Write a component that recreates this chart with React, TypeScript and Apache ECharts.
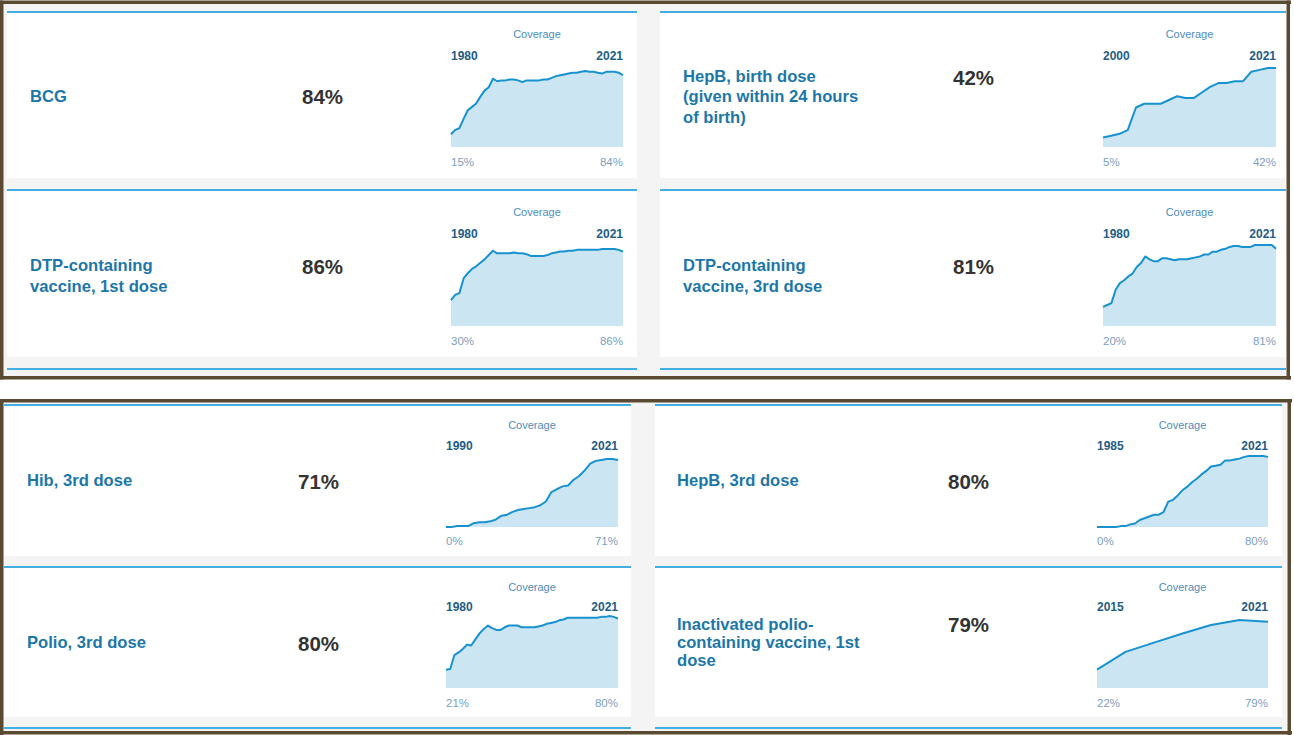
import React, { useEffect, useRef } from "react";
import * as echarts from "echarts";

// ---------- data ----------
const yearRange = (a: number, b: number): string[] => {
  const r: string[] = [];
  for (let y = a; y <= b; y++) r.push(String(y));
  return r;
};

const bcgYears = yearRange(1980, 2021);
const bcgValues = [15, 20, 22, 33, 43, 47, 51, 59, 66, 70, 80, 77, 78, 78, 79, 79, 78, 76, 78, 78, 78, 78, 79, 79, 81, 83, 84, 85, 86, 87, 87, 88, 89, 88, 88, 87, 86, 88, 88, 88, 87, 84];

const hepBBirthYears = yearRange(2000, 2021);
const hepBBirthValues = [5, 6, 7, 9, 21, 23, 23, 23, 25, 27, 26, 26, 29, 32, 34, 34, 35, 35, 40, 41, 42, 42];

const dtp1Years = yearRange(1980, 2021);
const dtp1Values = [30, 36, 38, 55, 61, 66, 69, 73, 77, 82, 87, 84, 84, 84, 84, 85, 84, 84, 83, 81, 81, 81, 81, 82, 84, 85, 86, 86, 87, 87, 88, 88, 88, 88, 88, 88, 89, 89, 89, 89, 88, 86];

const dtp3Years = yearRange(1980, 2021);
const dtp3Values = [20, 22, 24, 38, 45, 48, 52, 55, 62, 66, 73, 70, 68, 68, 71, 71, 70, 69, 70, 70, 70, 71, 72, 73, 75, 75, 78, 78, 80, 81, 83, 84, 84, 83, 83, 83, 85, 85, 85, 85, 85, 81];

const hibYears = yearRange(1990, 2021);
const hibValues = [0, 0, 1, 1, 1, 4, 5, 5, 6, 8, 12, 13, 16, 18, 19, 20, 21, 23, 27, 37, 40, 43, 44, 50, 54, 60, 67, 70, 71, 72, 72, 71];

const hepB3Years = yearRange(1985, 2021);
const hepB3Values = [0, 0, 0, 0, 0, 1, 1, 3, 4, 8, 10, 12, 14, 14, 17, 29, 31, 36, 42, 46, 51, 55, 60, 64, 69, 70, 71, 76, 76, 77, 78, 80, 81, 81, 81, 81, 80];

const polio3Years = yearRange(1980, 2021);
const polio3Values = [21, 22, 38, 41, 45, 50, 49, 56, 63, 68, 72, 69, 67, 67, 70, 72, 72, 72, 70, 70, 70, 70, 71, 72, 74, 75, 76, 78, 79, 81, 81, 81, 81, 81, 81, 81, 81, 82, 82, 83, 82, 80];

const ipvYears = yearRange(2015, 2021);
const ipvValues = [22, 43, 54, 65, 75, 81, 79];

const titles = [
  ["BCG"],
  ["HepB, birth dose", "(given within 24 hours", "of birth)"],
  ["DTP-containing", "vaccine, 1st dose"],
  ["DTP-containing", "vaccine, 3rd dose"],
  ["Hib, 3rd dose"],
  ["HepB, 3rd dose"],
  ["Polio, 3rd dose"],
  ["Inactivated polio-", "containing vaccine, 1st", "dose"],
];
const headline = ["84%", "42%", "86%", "81%", "71%", "80%", "80%", "79%"];
const firstLabels = ["15%", "5%", "30%", "20%", "0%", "0%", "21%", "22%"];
const lastLabels = ["84%", "42%", "86%", "81%", "71%", "80%", "80%", "79%"];
const seriesYears = [bcgYears, hepBBirthYears, dtp1Years, dtp3Years, hibYears, hepB3Years, polio3Years, ipvYears];
const seriesValues = [bcgValues, hepBBirthValues, dtp1Values, dtp3Values, hibValues, hepB3Values, polio3Values, ipvValues];

// ---------- layout ----------
type Card = {
  x: number; y: number; w: number; h: number;
  titleX: number; titleY: number; lineH: number;
  pctX: number; pctY: number;
  covY: number; yrY: number; botY: number;
  grid: { left: number; top: number; width: number; height: number };
};

const cards: Card[] = [
  { x: 7, y: 11, w: 630, h: 167, titleX: 30, titleY: 96, lineH: 21, pctX: 302, pctY: 96, covY: 34, yrY: 56, botY: 162, grid: { left: 451, top: 71, width: 172, height: 76 } },
  { x: 660, y: 11, w: 626, h: 167, titleX: 683, titleY: 76, lineH: 20.7, pctX: 953, pctY: 77, covY: 34, yrY: 56, botY: 162, grid: { left: 1103, top: 68, width: 173, height: 79 } },
  { x: 7, y: 189, w: 630, h: 168, titleX: 30, titleY: 265, lineH: 21, pctX: 302, pctY: 266, covY: 212, yrY: 234, botY: 341, grid: { left: 451, top: 249, width: 172, height: 77 } },
  { x: 660, y: 189, w: 626, h: 168, titleX: 683, titleY: 265, lineH: 21, pctX: 953, pctY: 266, covY: 212, yrY: 234, botY: 341, grid: { left: 1103, top: 245, width: 173, height: 81 } },
  { x: 4, y: 404, w: 627, h: 152, titleX: 27, titleY: 480, lineH: 18.5, pctX: 298, pctY: 481, covY: 425, yrY: 446, botY: 541, grid: { left: 446, top: 459, width: 172, height: 68 } },
  { x: 655, y: 404, w: 627, h: 152, titleX: 677, titleY: 480, lineH: 18.5, pctX: 948, pctY: 481, covY: 425, yrY: 446, botY: 541, grid: { left: 1097, top: 456, width: 171, height: 71 } },
  { x: 4, y: 566, w: 627, h: 151, titleX: 27, titleY: 642, lineH: 18.5, pctX: 298, pctY: 643, covY: 587, yrY: 607, botY: 703, grid: { left: 446, top: 616, width: 172, height: 72 } },
  { x: 655, y: 566, w: 627, h: 151, titleX: 677, titleY: 624, lineH: 18.4, pctX: 948, pctY: 624, covY: 587, yrY: 607, botY: 703, grid: { left: 1097, top: 620, width: 171, height: 68 } },
];

const FONT = '"Liberation Sans", Arial, Helvetica, sans-serif';
const BORDER = "#5b4a32";
const PANEL_BG = "#f4f4f4";
const CARD_LINE = "#45aee0";
const TITLE_C = "#1c77a8";
const PCT_C = "#333333";
const COV_C = "#4f8dbb";
const YEAR_C = "#215d86";
const BOT_C = "#7aa0bf";
const LINE_C = "#1892cf";
const AREA_C = "#cbe5f3";
const BASE_C = "#4fb3e3";

function txt(x: number, y: number, text: string, size: number, weight: string, fill: string, align: string = "left") {
  return {
    type: "text",
    x,
    y,
    z: 10,
    silent: true,
    style: {
      text,
      fill,
      fontSize: size,
      fontWeight: weight,
      fontFamily: FONT,
      textAlign: align,
      textVerticalAlign: "middle",
      align,
      verticalAlign: "middle",
    },
  };
}

function rect(x: number, y: number, w: number, h: number, fill: string, z = 0) {
  return { type: "rect", z, silent: true, shape: { x, y, width: w, height: h }, style: { fill } };
}

export default function App() {
  const ref = useRef<HTMLDivElement>(null);

  useEffect(() => {
    if (!ref.current) return;
    document.body.style.margin = "0";
    const chart = echarts.init(ref.current, undefined, { renderer: "svg" });

    const graphics: any[] = [];
    // panel backgrounds
    graphics.push(rect(0, 0, 1294, 735, "#ffffff", 0));
    graphics.push(rect(3, 4, 1283, 372, PANEL_BG, 0));
    graphics.push(rect(3, 402, 1284, 329, PANEL_BG, 0));

    // cards
    cards.forEach((c, i) => {
      graphics.push(rect(c.x, c.y, c.w, c.h, "#ffffff", 1));
      graphics.push(rect(c.x, c.y, c.w, 2, CARD_LINE, 2));
      titles[i].forEach((t, k) => {
        graphics.push(txt(c.titleX, c.titleY + k * c.lineH, t, 16.6, "bold", TITLE_C));
      });
      graphics.push(txt(c.pctX, c.pctY, headline[i], 20.5, "bold", PCT_C));
      const g = c.grid;
      graphics.push(txt(g.left + g.width / 2, c.covY, "Coverage", 11, "normal", COV_C, "center"));
      const ys = seriesYears[i];
      graphics.push(txt(g.left, c.yrY, ys[0], 12, "bold", YEAR_C, "left"));
      graphics.push(txt(g.left + g.width, c.yrY, ys[ys.length - 1], 12, "bold", YEAR_C, "right"));
      graphics.push(txt(g.left, c.botY, firstLabels[i], 11.5, "normal", BOT_C, "left"));
      graphics.push(txt(g.left + g.width, c.botY, lastLabels[i], 11.5, "normal", BOT_C, "right"));
    });

    // partial card lines at bottom of each panel
    graphics.push(rect(7, 368, 630, 2, CARD_LINE, 2));
    graphics.push(rect(660, 368, 626, 2, CARD_LINE, 2));
    graphics.push(rect(4, 727, 627, 2, CARD_LINE, 2));
    graphics.push(rect(655, 727, 627, 2, CARD_LINE, 2));

    // panel borders
    const bw = 3.5;
    graphics.push(rect(0, 0.5, 1291, bw, BORDER, 30));
    graphics.push(rect(0, 0.5, bw, 379, BORDER, 30));
    graphics.push(rect(1286.5, 0.5, bw, 379, BORDER, 30));
    graphics.push(rect(0, 376, 1291, bw, BORDER, 30));

    graphics.push(rect(0, 399, 1292, bw, BORDER, 30));
    graphics.push(rect(0, 399, bw, 336, BORDER, 30));
    graphics.push(rect(1287.5, 399, bw, 336, BORDER, 30));
    graphics.push(rect(0, 731, 1292, bw, BORDER, 30));

    const grids = cards.map((c) => ({ ...c.grid, containLabel: false, show: false }));
    const xAxes = cards.map((_, i) => ({
      gridIndex: i,
      type: "category",
      data: seriesYears[i],
      boundaryGap: false,
      axisLine: { show: true, onZero: true, lineStyle: { color: BASE_C, width: 2 } },
      axisTick: { show: false },
      axisLabel: { show: false },
      splitLine: { show: false },
    }));
    const yAxes = cards.map((_, i) => ({
      gridIndex: i,
      type: "value",
      min: 0,
      max: Math.max(...seriesValues[i]),
      show: false,
      splitLine: { show: false },
    }));
    const series = cards.map((_, i) => ({
      type: "line",
      xAxisIndex: i,
      yAxisIndex: i,
      data: seriesValues[i],
      symbol: "none",
      showSymbol: false,
      silent: true,
      z: 5,
      lineStyle: { color: LINE_C, width: 2, join: "round" },
      areaStyle: { color: AREA_C, opacity: 1 },
    }));

    chart.setOption({
      animation: false,
      backgroundColor: "#ffffff",
      tooltip: { show: false },
      graphic: { elements: graphics },
      grid: grids,
      xAxis: xAxes,
      yAxis: yAxes,
      series,
    });

    return () => chart.dispose();
  }, []);

  return (
    <div
      ref={ref}
      style={{ position: "absolute", left: 0, top: 0, width: 1294, height: 735, background: "#fff" }}
    />
  );
}
